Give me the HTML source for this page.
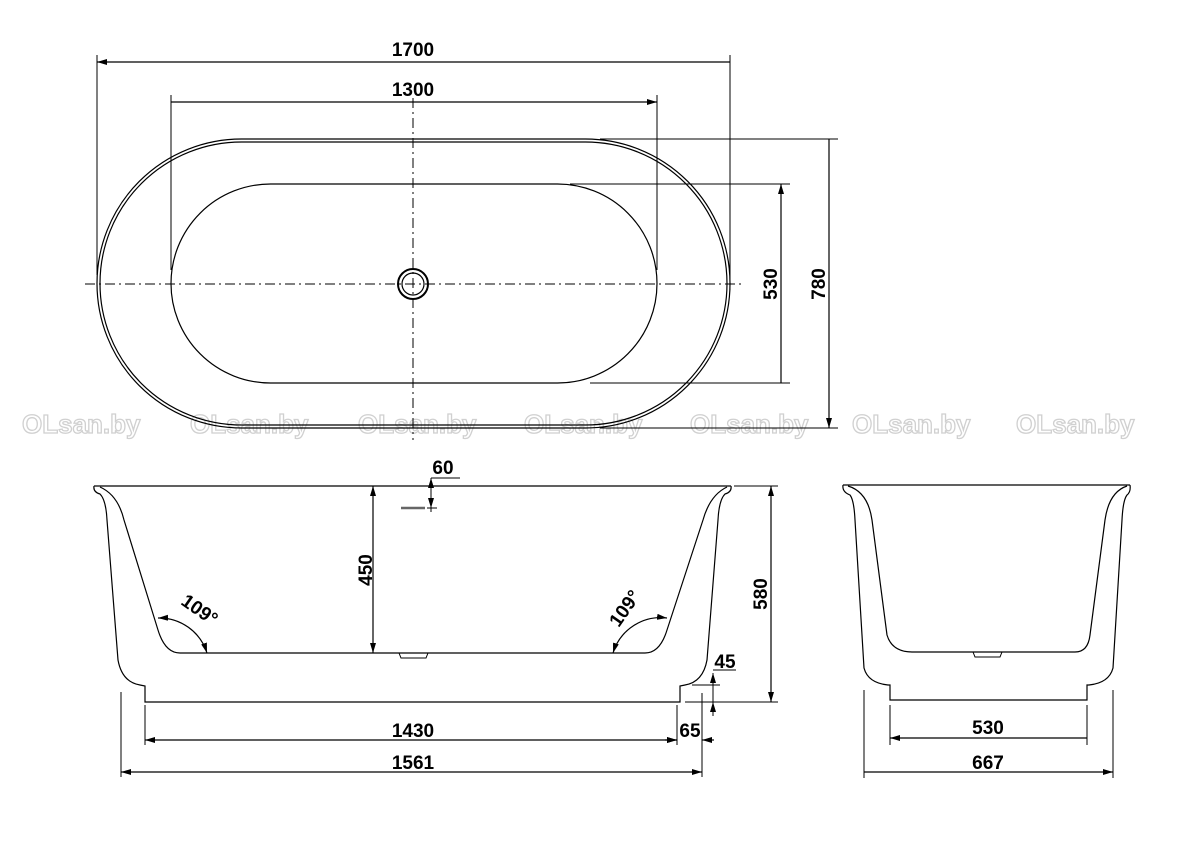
<!DOCTYPE html>
<html><head><meta charset="utf-8"><style>
html,body{margin:0;padding:0;background:#fff}
svg{display:block}
text{font-family:"Liberation Sans Narrow","Liberation Sans",sans-serif;font-weight:bold;font-size:19px;fill:#000}
.wm text{font-family:"Liberation Sans",sans-serif;font-size:26px;fill:#fff;stroke:#d0d0d0;stroke-width:1.3}
</style></head><body>
<svg width="1200" height="848" viewBox="0 0 1200 848" xmlns="http://www.w3.org/2000/svg">
<defs>
<marker id="a" viewBox="0 0 10 6" refX="10" refY="3" markerWidth="10" markerHeight="6" orient="auto-start-reverse" markerUnits="userSpaceOnUse"><path d="M0,0 L10,3 L0,6z" fill="#000"/></marker>
</defs>
<g class="wm">
<text x="22" y="433">OLsan.by</text><text x="190" y="433">OLsan.by</text><text x="358" y="433">OLsan.by</text><text x="524" y="433">OLsan.by</text><text x="690" y="433">OLsan.by</text><text x="852" y="433">OLsan.by</text><text x="1016" y="433">OLsan.by</text>
</g>
<g fill="none" stroke="#000" stroke-width="1.2">
<rect x="97" y="139" width="633" height="289" rx="144.5"/>
<rect x="100" y="142" width="627" height="283" rx="141.5"/>
<rect x="171" y="184" width="486" height="199" rx="99.5"/>
<circle cx="413" cy="284" r="15" stroke-width="2"/>
<circle cx="413" cy="284" r="11"/>
<path d="M85 284H745M413 98V440" stroke-dasharray="10 4 2 4" stroke-width="1"/>
<path d="M97 55V275M730 55V290M171 95V270M657 95V270" stroke-width="1"/>
<path d="M97 62H730M171 102H657" marker-start="url(#a)" marker-end="url(#a)"/>
<path d="M570 184H790M590 383H790M600 139H838M600 428H838" stroke-width="1"/>
<path d="M781 184V383M829 139V428" marker-start="url(#a)" marker-end="url(#a)"/>
<path d="M94 486H731"/>
<path d="M94 486 Q93 492 100 494 Q106 500 107 520 L118 660 Q122 682 140 685 L145 686 V702 H680 V686 L685 685 Q703 682 707 660 L718 520 Q719 500 725 494 Q732 492 731 486"/>
<path d="M100 487 Q118 495 124 520 L158 630 Q165 653 180 653 H645 Q660 653 667 630 L703 520 Q710 495 727 487"/>
<path d="M399 653 L401 658 H426 L428 653" stroke-width="1"/>
<path d="M401 508H425" stroke="#666" stroke-width="2.5"/>
<path d="M373 486V653" marker-start="url(#a)" marker-end="url(#a)"/>
<path d="M431 478H460M431 478V512M427 508H437" stroke-width="1"/>
<path d="M431 490V478" marker-end="url(#a)" stroke-width="1"/><path d="M431 498V508" marker-end="url(#a)" stroke-width="1"/>
<path d="M158 618 A50 50 0 0 1 207 653" marker-start="url(#a)" marker-end="url(#a)"/>
<path d="M667 618 A50 50 0 0 0 613 653" marker-start="url(#a)" marker-end="url(#a)"/>
<path d="M734 486H778M685 702H778" stroke-width="1"/>
<path d="M771 486V702" marker-start="url(#a)" marker-end="url(#a)"/>
<path d="M713 670H736M692 685H720M713 675V716" stroke-width="1"/>
<path d="M713 673V685" marker-start="url(#a)" stroke-width="1"/><path d="M713 702V714" marker-start="url(#a)" stroke-width="1"/>
<path d="M145 705V745M121 692V777M702 693V777M677 705V745" stroke-width="1"/>
<path d="M145 740H677" marker-start="url(#a)" marker-end="url(#a)"/>
<path d="M665 740H677" marker-end="url(#a)"/><path d="M714 740H702" marker-end="url(#a)"/>
<path d="M121 772H702" marker-start="url(#a)" marker-end="url(#a)"/>
<path d="M843 485H1130"/>
<path d="M843 485 Q842 492 850 495 Q854 500 855 520 L864 668 Q868 683 888 685 H890 V700 H1087 V685 H1089 Q1109 683 1113 668 L1122 520 Q1123 500 1127 495 Q1131 492 1130 485"/>
<path d="M848 486 Q868 492 872 520 L887 635 Q892 652 912 652 H1075 Q1088 652 1090 635 L1105 520 Q1109 492 1127 486"/>
<path d="M973 652 L975 657 H1000 L1002 652" stroke-width="1"/>
<path d="M890 705V745M1087 705V745M864 690V778M1113 690V778" stroke-width="1"/>
<path d="M890 738H1087M864 772H1113" marker-start="url(#a)" marker-end="url(#a)"/>
</g>
<g text-anchor="middle">
<text x="413" y="56">1700</text>
<text x="413" y="96">1300</text>
<text transform="translate(777,284) rotate(-90)">530</text>
<text transform="translate(825,284) rotate(-90)">780</text>
<text x="443" y="474">60</text>
<text transform="translate(372,570) rotate(-90)">450</text>
<text transform="translate(196,615) rotate(35)">109°</text>
<text transform="translate(630,612) rotate(-55)">109°</text>
<text transform="translate(767,594) rotate(-90)">580</text>
<text x="725" y="668">45</text>
<text x="690" y="737">65</text>
<text x="413" y="737">1430</text>
<text x="413" y="769">1561</text>
<text x="988" y="734">530</text>
<text x="988" y="769">667</text>
</g>
</svg>
</body></html>
